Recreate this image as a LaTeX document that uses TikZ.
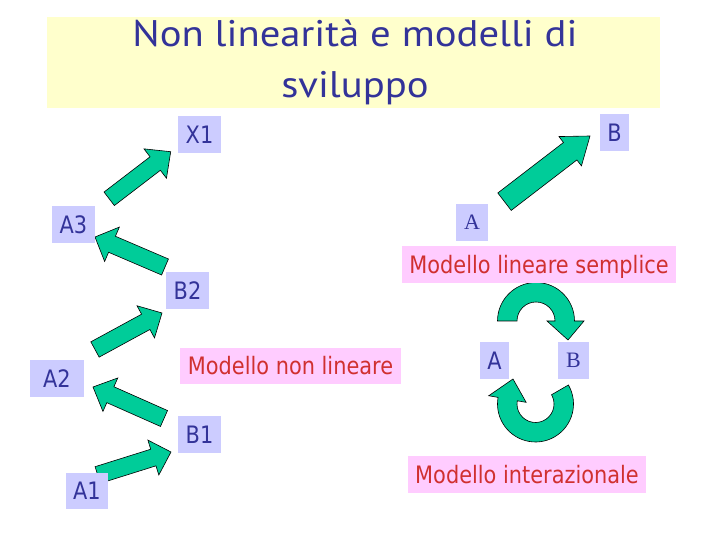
\documentclass[tikz,border=0pt]{standalone}
\usepackage{fontspec}
\usetikzlibrary{calc}
\newfontfamily\titlefont[FakeStretch=1.1]{PT Sans}
\newfontfamily\labfont[FakeStretch=0.87]{DejaVu Sans}
\newfontfamily\serfont{Liberation Serif}
\definecolor{lav}{HTML}{CCCCFF}
\definecolor{tblue}{HTML}{333399}
\definecolor{pinkbg}{HTML}{FFCCFF}
\definecolor{tred}{HTML}{D03030}
\definecolor{agreen}{HTML}{00CC99}
\definecolor{tyellow}{HTML}{FFFFCC}
\newcommand\blockarrow[5]{% tail, tip, shaft half-width, head half-width, head length
  \filldraw[blockarr] ($(#1)!#3!90:(#2)$) -- ($(#2)!#5!(#1)!#3!-90:(#1)$)
    -- ($(#2)!#5!(#1)!#4!-90:(#1)$) -- (#2)
    -- ($(#2)!#5!(#1)!#4!90:(#1)$) -- ($(#2)!#5!(#1)!#3!90:(#1)$)
    -- ($(#1)!#3!-90:(#2)$) -- cycle;}
\tikzset{
  blockarr/.style={fill=agreen, draw=black, line width=0.6pt, line join=miter},
  lbox/.style={fill=lav, text=tblue, inner sep=0pt, minimum height=37pt,
    font=\labfont\fontsize{24}{28}\selectfont, text height=17.5pt, text depth=0pt},
  sbox/.style={lbox, font=\serfont\fontsize{22}{26}\selectfont, text height=14.6pt},
  mbox/.style={fill=pinkbg, text=tred, inner sep=0pt, minimum height=37pt,
    font=\labfont\fontsize{24}{28}\selectfont, text height=17.5pt, text depth=0pt},
  ttl/.style={text=tblue, font=\titlefont\fontsize{37}{44}\selectfont, anchor=base, inner sep=0pt}
}
\begin{document}
\begin{tikzpicture}[x=1pt,y=1pt]
\useasboundingbox (0,0) rectangle (720,540);
% title
\fill[tyellow] (47,432) rectangle (660,523);
\node[ttl] (t1) at (355,493) {Non linearità e modelli di};
\node[ttl] (t2) at (355,442) {sviluppo};
% arrow coordinates
\coordinate (a1s) at (109.2,341.2); \coordinate (a1e) at (170.7,388.3);
\coordinate (a2s) at (165,273);     \coordinate (a2e) at (95,303);
\coordinate (a3s) at (95,190.5);    \coordinate (a3e) at (162,227);
\coordinate (a4s) at (164,121.5);   \coordinate (a4e) at (93,153);
\coordinate (a5s) at (97.7,65);     \coordinate (a5e) at (171,88);
\coordinate (a6s) at (504.5,338.3); \coordinate (a6e) at (590,404);
\blockarrow{a1s}{a1e}{8.5pt}{18.5pt}{19.5pt}
\blockarrow{a2s}{a2e}{8.7pt}{18.7pt}{18.5pt}
\blockarrow{a3s}{a3e}{8.7pt}{18.3pt}{18.5pt}
\blockarrow{a4s}{a4e}{8.7pt}{18.3pt}{19pt}
\blockarrow{a5s}{a5e}{8.7pt}{18.3pt}{18.5pt}
\blockarrow{a6s}{a6e}{11pt}{18.5pt}{25pt}
% curved arrows
\coordinate (cT) at (536,219);
\coordinate (cB) at (535.5,136);
\filldraw[blockarr] ($(cT)+(-38.5,0)$) arc[start angle=180, end angle=0, radius=38.5]
  -- ($(cT)+(48,0)$) -- ($(cT)+(32,-19)$) -- ($(cT)+(11,0)$) -- ($(cT)+(19,0)$)
  arc[start angle=0, end angle=180, radius=19] -- cycle;
\filldraw[blockarr] ($(cB)+(30:38)$) arc[start angle=30, end angle=-190, radius=38]
  -- ($(cB)+(170:47.5)$) -- ($(cB)+(-22.5,25)$) -- ($(cB)+(170:9.5)$) -- ($(cB)+(170:18.5)$)
  arc[start angle=170, end angle=390, radius=18.5] -- cycle;
% label boxes
\node[lbox, minimum width=43pt] (X1) at (199.5,405.5) {X1};
\node[lbox, minimum width=43pt] (A3) at (73.5,315.5) {A3};
\node[lbox, minimum width=43pt] (B2) at (187.5,249.5) {B2};
\node[lbox, minimum width=54pt] (A2) at (57,161.5) {A2};
\node[lbox, minimum width=43pt] (B1) at (199.5,105.5) {B1};
\node[lbox, minimum width=42pt, minimum height=36pt] (A1) at (87,49) {A1};
\node[lbox, minimum width=29pt] (Bt) at (614.5,407.5) {B};
\node[sbox, minimum width=32pt] (At) at (472,317.5) {A};
\node[lbox, minimum width=29pt] (Ab) at (494.5,179.5) {A};
\node[sbox, minimum width=31pt] (Bb) at (573.5,179.5) {B};
\node[mbox, minimum width=221pt, minimum height=36pt] (M1) at (290.5,174) {Modello non lineare};
\node[mbox, minimum width=274pt] (M2) at (539,275.5) {Modello lineare semplice};
\node[mbox, minimum width=238pt] (M3) at (527,65.5) {Modello interazionale};
\end{tikzpicture}
\end{document}
